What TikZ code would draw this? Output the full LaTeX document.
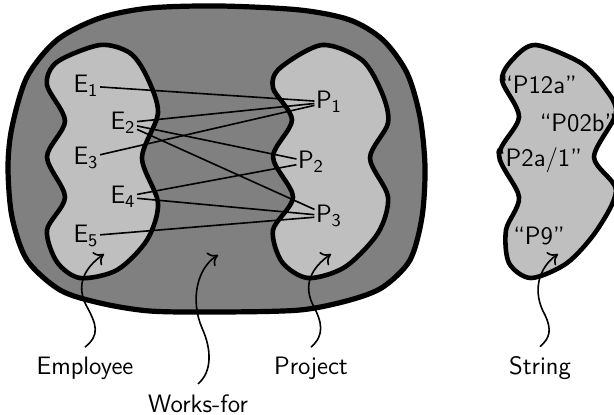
\documentclass[tikz,border=0pt]{standalone}
\usetikzlibrary{arrows.meta}
\tikzset{
  outerset/.style={draw=black, line width=2.6pt, fill=black!50},
  innerset/.style={draw=black, line width=2.3pt, fill=black!25},
  elem/.style={inner sep=0.6pt, font=\sffamily\fontsize{12.6}{15}\selectfont},
  setname/.style={inner sep=0pt, anchor=base, font=\sffamily\fontsize{12.6}{15}\selectfont},
  link/.style={line width=0.8pt},
  pointer/.style={line width=0.8pt, -{To[length=4.5pt,width=8pt]}}
}
\begin{document}
\begin{tikzpicture}[x=0.5pt,y=-0.5pt]
  \useasboundingbox (0,0) rectangle (614,414);
  % the works-for relation
  \draw[outerset] plot[smooth cycle] coordinates {(220,6) (300,10) (350,20) (383,40) (407,73) (420,117)
    (425,167) (422,217) (410,260) (383,287) (350,300) (300,310) (220,312) (150,311) (100,303)
    (60,290) (27,260) (12,217) (8,167) (12,127) (27,77) (57,40) (100,18) (150,8)};
  % the three sets
  \draw[innerset] plot[smooth cycle] coordinates {(100,45) (130,53) (147,77) (158,113) (142,158)
    (158,203) (147,240) (117,270) (80,278) (57,262) (47,230) (65,197) (47,157) (65,121) (47,85) (57,62)};
  \draw[innerset] plot[smooth cycle] coordinates {(322,45) (362,60) (382,93) (388,123) (370,158)
    (388,197) (378,233) (345,267) (308,278) (282,262) (273,230) (293,197) (273,157) (292,120) (273,88) (280,68)};
  \draw[innerset] plot[smooth cycle] coordinates {(536,45) (581,63) (604,87) (616,113) (594,157)
    (616,190) (597,230) (567,263) (531,278) (509,263) (506,230) (519,197) (499,155) (519,117) (502,80) (514,58)};
  % employees
  \node[elem] (E1) at (86,86) {E$_{\mathsf{1}}$};
  \node[elem] (E2) at (123,123) {E$_{\mathsf{2}}$};
  \node[elem] (E3) at (86,158) {E$_{\mathsf{3}}$};
  \node[elem] (E4) at (123,197) {E$_{\mathsf{4}}$};
  \node[elem] (E5) at (86,236) {E$_{\mathsf{5}}$};
  % projects
  \node[elem] (P1) at (329,102) {P$_{\mathsf{1}}$};
  \node[elem] (P2) at (311,162) {P$_{\mathsf{2}}$};
  \node[elem] (P3) at (329,216) {P$_{\mathsf{3}}$};
  % strings
  \node[elem] (s1) at (539,85) {``P12a''};
  \node[elem] (s2) at (578,123) {``P02b''};
  \node[elem] (s3) at (538,160) {``P2a/1''};
  \node[elem] (s4) at (539,236) {``P9''};
  \foreach \a/\b in {E1/P1,E2/P1,E3/P1,E2/P2,E4/P2,E2/P3,E4/P3,E5/P3}
    \draw[link] (\a) -- (\b);
  % names of the sets
  \node[setname] (emp) at (85,374) {Employee};
  \node[setname] (wf) at (198,412) {Works-for};
  \node[setname] (proj) at (311,374) {Project};
  \node[setname] (str) at (540,374) {String};
  \coordinate (emptip) at (104,254);
  \coordinate (wftip) at (218,255);
  \coordinate (projtip) at (331,254);
  \coordinate (strtip) at (558,254);
  \draw[pointer] ([yshift=4.5pt]emp.north) .. controls (100,335) and (97,325) .. (86,305)
    .. controls (76,285) and (84,268) .. (emptip);
  \draw[pointer] ([yshift=5pt]wf.north) .. controls (212,372) and (212,350) .. (202,328)
    .. controls (190,300) and (197,268) .. (wftip);
  \draw[pointer] ([yshift=4.5pt]proj.north) .. controls (325,335) and (322,322) .. (313,305)
    .. controls (303,285) and (311,268) .. (projtip);
  \draw[pointer] ([yshift=4.5pt]str.north) .. controls (550,338) and (552,330) .. (545,315)
    .. controls (532,292) and (538,268) .. (strtip);
\end{tikzpicture}
\end{document}
